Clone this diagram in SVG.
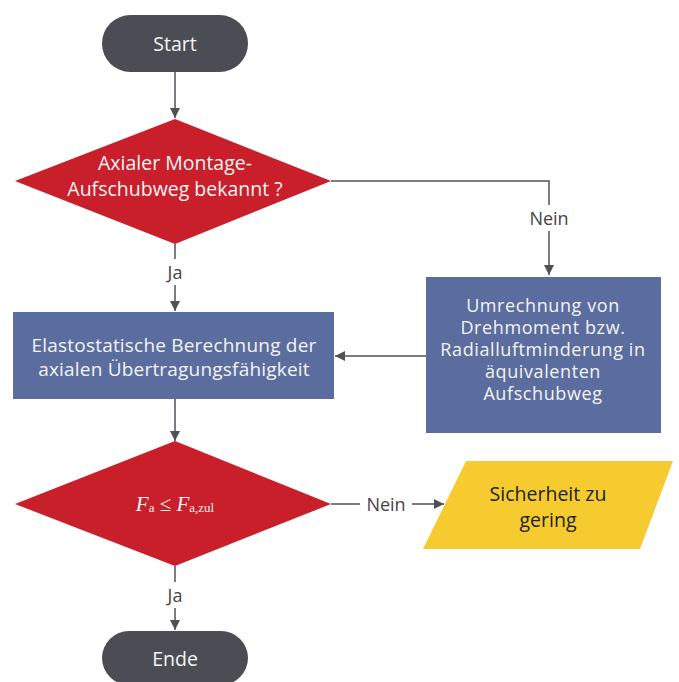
<svg xmlns="http://www.w3.org/2000/svg" width="679" height="682" viewBox="0 0 679 682">
<defs>
<style>
.term{fill:#4b4d55}
.dec{fill:#c81f2a}
.proc{fill:#5b6d9e}
.io{fill:#f6cb2f}
.t{font-family:"Open Sans","Noto Sans",sans-serif;font-size:19.5px;fill:#f4f4f4;text-anchor:middle;dominant-baseline:central}
.s{font-size:18px;letter-spacing:0.6px}
.s2{font-size:19px;letter-spacing:0.2px}
.dark{fill:#222}
.lbl{font-family:"Open Sans","Noto Sans",sans-serif;font-size:18px;fill:#444;text-anchor:middle;dominant-baseline:central}
.c{stroke:#4f5158;stroke-width:1.5;fill:none}
.m{font-family:"Liberation Serif",serif;font-size:21px;fill:#f4f4f4;text-anchor:middle;dominant-baseline:central}
</style>
<marker id="ah" viewBox="0 0 10 10" refX="10" refY="5" markerWidth="10" markerHeight="10" markerUnits="userSpaceOnUse" orient="auto">
<path d="M0,0 L10,5 L0,10 z" fill="#4f5158"/>
</marker>
</defs>
<rect width="679" height="682" fill="#fff"/>
<g id="connectors">
<line class="c" x1="175" y1="72" x2="175" y2="118" marker-end="url(#ah)"/>
<polyline class="c" points="331,181 549,181 549,275" marker-end="url(#ah)"/>
<line class="c" x1="175" y1="244" x2="175" y2="311" marker-end="url(#ah)"/>
<line class="c" x1="426" y1="356" x2="335" y2="356" marker-end="url(#ah)"/>
<line class="c" x1="175" y1="399" x2="175" y2="441" marker-end="url(#ah)"/>
<line class="c" x1="331" y1="504" x2="444" y2="504" marker-end="url(#ah)"/>
<line class="c" x1="175" y1="566" x2="175" y2="630" marker-end="url(#ah)"/>
<rect x="523" y="205" width="52" height="26" fill="#fff"/>
<text class="lbl" x="549" y="218">Nein</text>
<rect x="160" y="259" width="30" height="26" fill="#fff"/>
<text class="lbl" x="175" y="272">Ja</text>
<rect x="360" y="491" width="52" height="26" fill="#fff"/>
<text class="lbl" x="386" y="504">Nein</text>
<rect x="160" y="582" width="30" height="26" fill="#fff"/>
<text class="lbl" x="175" y="595">Ja</text>
</g>
<g id="start">
<rect class="term" x="102" y="15" width="146" height="57" rx="28.5"/>
<text class="t" x="175" y="43">Start</text>
</g>
<g id="decision1">
<polygon class="dec" points="175,119 331,181 175,244 15,181"/>
<text class="t" x="175" y="162">Axialer Montage-</text>
<text class="t" x="175" y="188">Aufschubweg bekannt ?</text>
</g>
<g id="convert">
<rect class="proc" x="426" y="277" width="235" height="156"/>
<text class="t s" x="543" y="305">Umrechnung von</text>
<text class="t s" x="543" y="327">Drehmoment bzw.</text>
<text class="t s" x="543" y="349">Radialluftminderung in</text>
<text class="t s" x="543" y="371">äquivalenten</text>
<text class="t s" x="543" y="393">Aufschubweg</text>
</g>
<g id="calc">
<rect class="proc" x="13" y="312" width="321" height="87"/>
<text class="t s2" x="174" y="345">Elastostatische Berechnung der</text>
<text class="t s2" x="174" y="369">axialen Übertragungsfähigkeit</text>
</g>
<g id="decision2">
<polygon class="dec" points="175,441 331,504 175,566 15,504"/>
<text class="m" x="175" y="504"><tspan font-style="italic">F</tspan><tspan font-size="13" dy="3">a</tspan><tspan dy="-3"> ≤ </tspan><tspan font-style="italic">F</tspan><tspan font-size="13" dy="3">a,zul</tspan></text>
</g>
<g id="warning">
<polygon class="io" points="466,461 673,461 640,549 423,549"/>
<text class="t dark" x="548" y="493">Sicherheit zu</text>
<text class="t dark" x="548" y="519">gering</text>
</g>
<g id="end">
<rect class="term" x="102" y="631" width="146" height="54" rx="27"/>
<text class="t" x="175" y="658">Ende</text>
</g>
</svg>
